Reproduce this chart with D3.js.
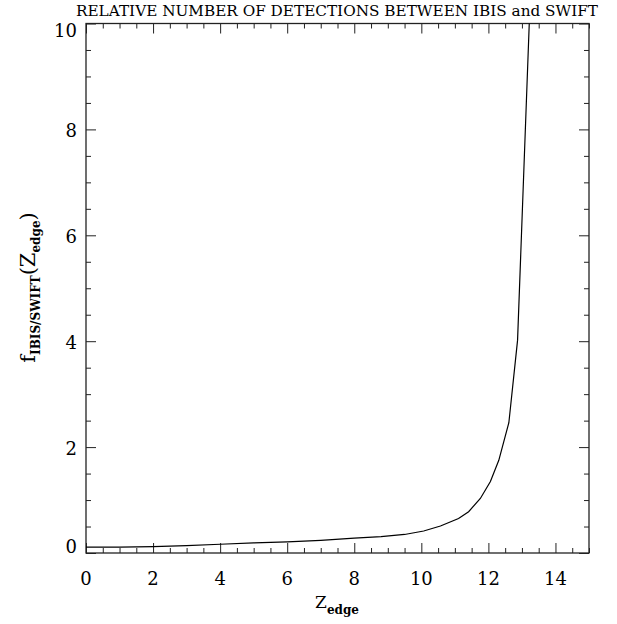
<!DOCTYPE html>
<html>
<head>
<meta charset="utf-8">
<script src="https://cdn.jsdelivr.net/npm/d3@7"></script>
<style>
  body { margin: 0; background: #fff; }
  text { font-family: "DejaVu Serif", "Liberation Serif", serif; fill: #000; }
</style>
</head>
<body>
<div id="chart"></div>
<script>
// Curve
const zEdge = [0, 1, 2, 3, 4, 5, 6, 7, 8, 8.8, 9.5, 10.07, 10.57, 11.11, 11.41, 11.76, 12.06, 12.31, 12.61, 12.87, 13.3];
const fRatio = [0.11, 0.11, 0.12, 0.14, 0.165, 0.19, 0.21, 0.24, 0.28, 0.31, 0.35, 0.415, 0.51, 0.65, 0.78, 1.03, 1.35, 1.75, 2.46, 4.02, 11.4];

const xMajor = [0, 2, 4, 6, 8, 10, 12, 14];
const yMajor = [0, 2, 4, 6, 8, 10];

const width = 617;
const height = 624;
const plotLeft = 86, plotRight = 589, plotTop = 23.5, plotBottom = 553;

const svg = d3.select('#chart').append('svg')
  .attr('width', width)
  .attr('height', height);

const x = d3.scaleLinear().domain([0, 15]).range([plotLeft, plotRight]);
const y = d3.scaleLinear().domain([0, 10]).range([plotBottom, plotTop]);

const xMinor = d3.range(0, 15.01, 0.5).filter(v => !xMajor.includes(v));
const yMinor = d3.range(0, 10.01, 0.5).filter(v => !yMajor.includes(v));

// ticks, all pointing inward
function tickAxis(axis, pos) {
  const g = svg.append('g').attr('transform', pos).call(axis);
  g.select('.domain').remove();
  g.selectAll('line').attr('stroke', '#222').attr('stroke-width', 1);
  return g;
}

tickAxis(d3.axisTop(x).tickValues(xMajor).tickSize(10).tickFormat(''), `translate(0,${plotBottom})`);
tickAxis(d3.axisTop(x).tickValues(xMinor).tickSize(5).tickFormat(''), `translate(0,${plotBottom})`);
tickAxis(d3.axisBottom(x).tickValues(xMajor).tickSize(10).tickFormat(''), `translate(0,${plotTop})`);
tickAxis(d3.axisBottom(x).tickValues(xMinor).tickSize(5).tickFormat(''), `translate(0,${plotTop})`);
tickAxis(d3.axisRight(y).tickValues(yMajor).tickSize(10).tickFormat(''), `translate(${plotLeft},0)`);
tickAxis(d3.axisRight(y).tickValues(yMinor).tickSize(5).tickFormat(''), `translate(${plotLeft},0)`);
tickAxis(d3.axisLeft(y).tickValues(yMajor).tickSize(10).tickFormat(''), `translate(${plotRight},0)`);
tickAxis(d3.axisLeft(y).tickValues(yMinor).tickSize(5).tickFormat(''), `translate(${plotRight},0)`);

// tick labels
svg.append('g').selectAll('text')
  .data(xMajor)
  .join('text')
  .attr('x', d => x(d))
  .attr('y', 585)
  .attr('text-anchor', 'middle')
  .attr('font-size', 18)
  .text(d => d);

svg.append('g').selectAll('text')
  .data(yMajor)
  .join('text')
  .attr('x', 77)
  .attr('y', d => y(d) + (d === 0 ? 0 : d === 10 ? 13 : 7.5))
  .attr('text-anchor', 'end')
  .attr('font-size', 18)
  .text(d => d);

// frame
svg.append('rect')
  .attr('x', plotLeft).attr('y', plotTop)
  .attr('width', plotRight - plotLeft).attr('height', plotBottom - plotTop)
  .attr('fill', 'none')
  .attr('stroke', '#222')
  .attr('stroke-width', 1.3);

// curve
svg.append('clipPath').attr('id', 'plot-clip')
  .append('rect')
  .attr('x', plotLeft).attr('y', plotTop)
  .attr('width', plotRight - plotLeft).attr('height', plotBottom - plotTop);

const line = d3.line()
  .x((d, i) => x(zEdge[i]))
  .y(d => y(d));

svg.append('path')
  .datum(fRatio)
  .attr('clip-path', 'url(#plot-clip)')
  .attr('fill', 'none')
  .attr('stroke', '#000')
  .attr('stroke-width', 1.2)
  .attr('d', line);

// title
svg.append('text')
  .attr('x', 337)
  .attr('y', 16)
  .attr('text-anchor', 'middle')
  .attr('font-size', 15)
  .attr('textLength', 522)
  .attr('lengthAdjust', 'spacingAndGlyphs')
  .text('RELATIVE NUMBER OF DETECTIONS BETWEEN IBIS and SWIFT');

// x label
const xl = svg.append('text')
  .attr('x', 337)
  .attr('y', 608)
  .attr('text-anchor', 'middle')
  .attr('font-size', 17);
xl.append('tspan').text('Z');
xl.append('tspan').attr('font-size', 12).attr('font-weight', 'bold').attr('dy', 6).text('edge');

// y label
const yl = svg.append('text')
  .attr('transform', 'translate(35,287.5) rotate(-90)')
  .attr('text-anchor', 'middle')
  .attr('font-size', 21);
yl.append('tspan').text('f');
yl.append('tspan').attr('font-size', 12).attr('font-weight', 'bold').attr('dy', 5).text('IBIS/SWIFT');
yl.append('tspan').attr('dy', -5).text('(Z');
yl.append('tspan').attr('font-size', 12).attr('font-weight', 'bold').attr('dy', 5).text('edge');
yl.append('tspan').attr('dy', -5).text(')');
</script>
</body>
</html>
